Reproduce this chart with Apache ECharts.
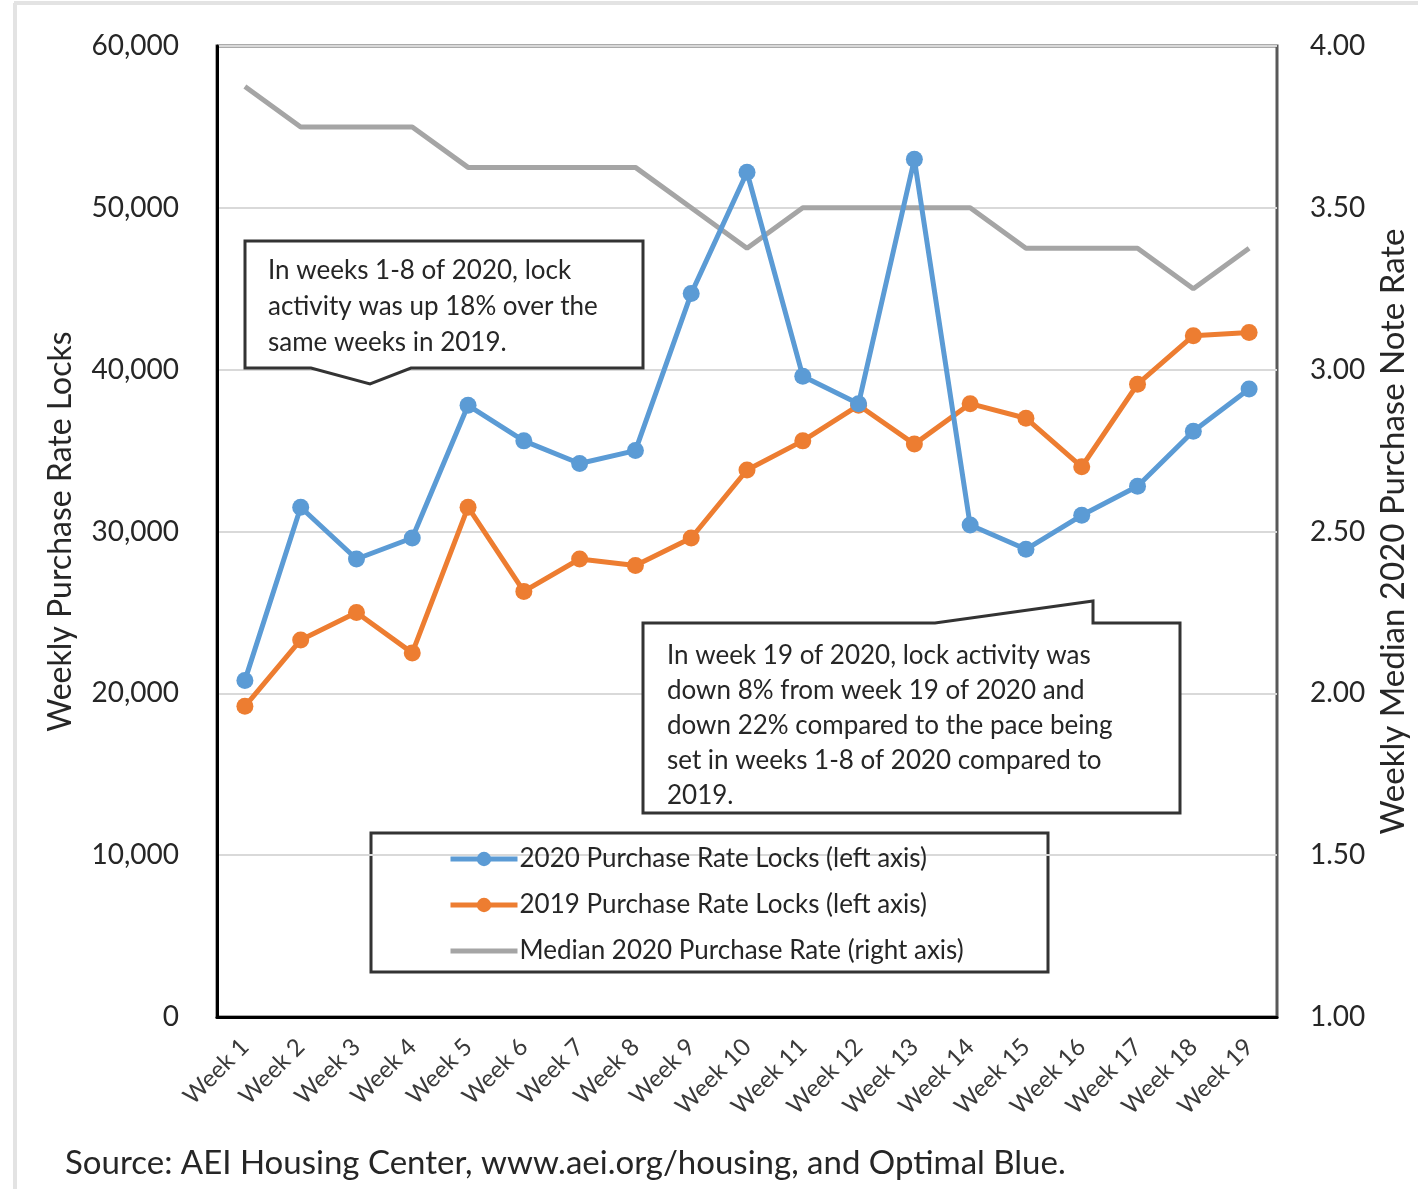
<!DOCTYPE html>
<html><head><meta charset="utf-8">
<script src="https://cdn.jsdelivr.net/npm/echarts@6/dist/echarts.min.js"></script>
<style>html,body{margin:0;padding:0;background:#fff}#c{width:1418px;height:1189px}</style>
</head><body><div id="c"></div>
<script>
const weeks = ['Week 1','Week 2','Week 3','Week 4','Week 5','Week 6','Week 7','Week 8','Week 9','Week 10','Week 11','Week 12','Week 13','Week 14','Week 15','Week 16','Week 17','Week 18','Week 19'];
const locks2020 = [20800,31500,28300,29600,37800,35600,34200,35000,44700,52200,39600,37900,53000,30400,28900,31000,32800,36200,38800];
const locks2019 = [19200,23300,25000,22500,31500,26300,28300,27900,29600,33800,35600,37800,35400,37900,37000,34000,39100,42100,42300];
const medianRate = [3.875,3.75,3.75,3.75,3.625,3.625,3.625,3.625,3.5,3.375,3.5,3.5,3.5,3.5,3.375,3.375,3.375,3.25,3.375];
const seriesNames = ['2020 Purchase Rate Locks (left axis)','2019 Purchase Rate Locks (left axis)','Median 2020 Purchase Rate (right axis)'];
const leftTicks = {min:0,max:60000,interval:10000};
const rightTicks = {min:1,max:4,interval:0.5};
const note1 = 'In weeks 1-8 of 2020, lock\nactivity was up 18% over the\nsame weeks in 2019.';
const note2 = 'In week 19 of 2020, lock activity was\ndown 8% from week 19 of 2020 and\ndown 22% compared to the pace being\nset in weeks 1-8 of 2020 compared to\n2019.';
const source = 'Source: AEI Housing Center, www.aei.org/housing, and Optimal Blue.';

const F = 'Lato, "Open Sans", sans-serif';
const TXT = '#262626';
const chart = echarts.init(document.getElementById('c'));
chart.setOption({
  animation:false,
  backgroundColor:'#fff',
  grid:{left:217,right:134,top:46,bottom:172,show:true,borderColor:'#595959',borderWidth:3},
  xAxis:{type:'category',data:weeks,boundaryGap:true,
    axisLine:{lineStyle:{color:'#000',width:3}},axisTick:{show:false},
    axisLabel:{rotate:45,fontFamily:F,fontSize:24,color:'#3a3a3a',margin:26}},
  yAxis:[
    {type:'value',min:leftTicks.min,max:leftTicks.max,interval:leftTicks.interval,
     name:'Weekly Purchase Rate Locks',nameLocation:'middle',nameRotate:90,nameGap:140,
     nameTextStyle:{fontFamily:F,fontSize:32,color:TXT},
     axisLine:{show:true,lineStyle:{color:'#000',width:3}},axisTick:{show:false},
     splitLine:{lineStyle:{color:'#d9d9d9',width:2}},
     axisLabel:{fontFamily:F,fontSize:28,color:TXT,margin:38,
       formatter:v=>v.toLocaleString('en-US')}},
    {type:'value',min:rightTicks.min,max:rightTicks.max,interval:rightTicks.interval,position:'right',
     name:'Weekly Median 2020 Purchase Note Rate',nameLocation:'middle',nameRotate:90,nameGap:100,
     nameTextStyle:{fontFamily:F,fontSize:33,color:TXT},
     axisLine:{show:false},axisTick:{show:false},splitLine:{show:false},
     axisLabel:{fontFamily:F,fontSize:28,color:TXT,margin:33,formatter:v=>v.toFixed(2)}}
  ],
  legend:{left:443,top:840,orient:'vertical',itemWidth:67,itemHeight:18,itemGap:18,
    lineStyle:{width:5},
    data:[seriesNames[0],seriesNames[1],{name:seriesNames[2],icon:'path://M0,0H67V5H0Z'}],
    textStyle:{fontFamily:F,fontSize:26,color:TXT,lineHeight:28,padding:[0,0,0,-3]}},
  series:[
    {name:seriesNames[2],type:'line',yAxisIndex:1,data:medianRate,symbol:'none',z:1,
     lineStyle:{color:'#a5a5a5',width:5},itemStyle:{color:'#a5a5a5'}},
    {name:seriesNames[0],type:'line',data:locks2020,symbol:'circle',symbolSize:17,z:3,
     lineStyle:{color:'#5b9bd5',width:5},itemStyle:{color:'#5b9bd5'}},
    {name:seriesNames[1],type:'line',data:locks2019,symbol:'circle',symbolSize:17,z:2,
     lineStyle:{color:'#ed7d31',width:5},itemStyle:{color:'#ed7d31'}}
  ],
  graphic:[
    {type:'line',shape:{x1:14,y1:3,x2:1418,y2:3},style:{stroke:'#e3e3e3',lineWidth:4},z:10},
    {type:'line',shape:{x1:15,y1:3,x2:15,y2:1189},style:{stroke:'#e3e3e3',lineWidth:4},z:10},
    {type:'polygon',shape:{points:[[245,241],[643,241],[643,368],[411,368],[370,384],[311,368],[245,368]]},
     style:{fill:'#fff',stroke:'#333',lineWidth:3},z:10},
    {type:'text',x:268,y:253,style:{text:note1,fontFamily:F,fontSize:26,lineHeight:36,fill:TXT},z:11},
    {type:'polygon',shape:{points:[[643,623],[935,623],[1093,601],[1093,623],[1180,623],[1180,813],[643,813]]},
     style:{fill:'#fff',stroke:'#333',lineWidth:3},z:10},
    {type:'text',x:667,y:638,style:{text:note2,fontFamily:F,fontSize:26,lineHeight:35,fill:TXT},z:11},
    {type:'rect',shape:{x:371,y:833,width:677,height:139},style:{fill:'#fff',stroke:'#333',lineWidth:3},z:0},
    {type:'text',x:65,y:1147,style:{text:source,fontFamily:F,fontSize:33,fill:TXT},z:11}
  ]
});
</script></body></html>
